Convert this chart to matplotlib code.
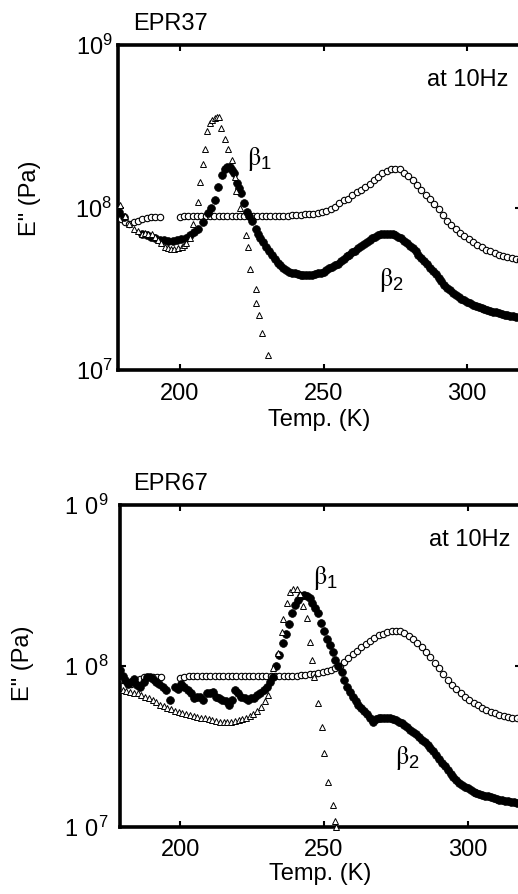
import numpy as np
import matplotlib
matplotlib.use("Agg")
import matplotlib.pyplot as plt
from matplotlib.ticker import NullLocator

plt.rcParams['font.family'] = ['Liberation Sans', 'DejaVu Sans']
plt.rcParams['mathtext.default'] = 'regular'

# ---------------- EPR37 (top panel) ----------------
# open circles
oc37_T = [179.5, 181, 182.5, 184, 185.5, 187, 188.5, 190, 191.5, 193,
          200, 201.5, 203, 204.5, 206, 207.5, 209, 210.5, 212, 213.5, 215, 216.5, 218, 219.5,
          221, 222.5, 224, 225.5, 227, 228.5, 230, 231.5, 233, 234.5, 236, 237.5, 239, 240.5,
          242, 243.5, 245, 246.5,
          248, 249.5, 251, 252.5, 254, 255.5, 257, 258.5, 260, 261.5, 263, 264.5, 266, 267.5,
          269, 270.5, 272, 273.5, 275, 276.5, 278, 279.5, 281, 282.5, 284, 285.5, 287, 288.5,
          290, 291.5, 293, 294.5, 296, 297.5, 299, 300.5, 302, 303.5, 305, 306.5, 308, 309.5,
          311, 312.5, 314, 315.5, 317, 318.5]
oc37_logE = [7.93, 7.91, 7.90, 7.91, 7.92, 7.93, 7.935, 7.94, 7.94, 7.94,
             7.94, 7.945, 7.95, 7.95, 7.95, 7.95, 7.95, 7.95, 7.95, 7.95, 7.95, 7.95, 7.95, 7.95,
             7.95, 7.95, 7.95, 7.95, 7.95, 7.95, 7.95, 7.95, 7.95, 7.95, 7.95, 7.95, 7.955, 7.955,
             7.955, 7.96, 7.96, 7.96,
             7.965, 7.97, 7.98, 7.99, 8.005, 8.025, 8.045, 8.055, 8.075, 8.095, 8.105, 8.125,
             8.145, 8.17, 8.19, 8.21, 8.225, 8.235, 8.24, 8.235, 8.215, 8.195, 8.17, 8.14,
             8.11, 8.08, 8.05, 8.02, 7.99, 7.955, 7.92, 7.89, 7.865, 7.845, 7.825, 7.805,
             7.785, 7.77, 7.755, 7.74, 7.73, 7.72, 7.71, 7.70, 7.695, 7.69, 7.685, 7.68]

# filled circles
fc37_T = [179, 180.5, 187, 188.5, 190, 191.5, 193, 194.5, 196, 197.5, 199, 200.5, 202, 203.5,
          205, 206.5, 208, 209.8, 211, 212.2, 213.3, 214.6, 215.6, 216.5, 217.4, 218.3, 218.8,
          219.8, 220.5, 221.2, 222.2, 223.3, 224.2, 225, 226.4, 227.2, 228, 229, 230, 231, 232,
          233, 234, 235, 236, 237, 238, 239, 240, 241, 242, 243, 244, 245, 246, 247, 248, 249,
          250, 251, 252, 253, 254, 255, 256, 257, 258, 259, 260, 261, 262, 263, 264, 265, 266,
          267, 268, 269, 270, 271, 272, 273, 274, 275, 276, 277, 278, 279, 280, 281, 282, 283,
          284, 285, 286, 287, 288, 289, 290, 291, 292, 293, 294, 295, 296, 297, 298, 299, 300,
          301, 302, 303, 304, 305, 306, 307, 308, 309, 310, 311, 312, 313, 314, 315, 316, 317,
          318]
fc37_logE = [7.97, 7.94, 7.84, 7.83, 7.82, 7.81, 7.80, 7.80, 7.795, 7.795, 7.80, 7.805, 7.815,
             7.83, 7.85, 7.87, 7.91, 7.965, 8.00, 8.046, 8.126, 8.20, 8.24, 8.25, 8.25, 8.23,
             8.21, 8.15, 8.12, 8.09, 8.03, 7.97, 7.945, 7.92, 7.87, 7.84, 7.81, 7.785, 7.76,
             7.735, 7.71, 7.685, 7.66, 7.645, 7.63, 7.615, 7.605, 7.60, 7.595, 7.59, 7.587,
             7.585, 7.585, 7.585, 7.587, 7.59, 7.595, 7.60, 7.605, 7.615, 7.625, 7.635, 7.645,
             7.655, 7.67, 7.685, 7.70, 7.71, 7.725, 7.735, 7.75, 7.765, 7.775, 7.785, 7.80,
             7.81, 7.82, 7.83, 7.835, 7.84, 7.84, 7.84, 7.835, 7.83, 7.82, 7.81, 7.795, 7.78,
             7.765, 7.75, 7.73, 7.71, 7.69, 7.67, 7.65, 7.63, 7.61, 7.59, 7.565, 7.545, 7.525,
             7.505, 7.49, 7.475, 7.46, 7.45, 7.44, 7.43, 7.42, 7.41, 7.40, 7.395, 7.39, 7.38,
             7.375, 7.37, 7.365, 7.36, 7.355, 7.35, 7.345, 7.34, 7.337, 7.334, 7.33, 7.327,
             7.325]

# open triangles
tr37_T = [179.2, 180.9, 182.5, 184.2, 185.5, 186.7, 187.8, 188.9, 190.2, 191.2, 192.3, 193.4,
          194.8, 196, 197, 198, 199.2, 200.6, 201.5, 202.3, 203.5, 204.6, 206.4, 206.9, 207.9,
          208.7, 209.6, 210.4, 211.3, 212.2, 213.0, 213.7, 214.5, 215.6, 216.8, 218.0, 219.1,
          219.7, 220.8, 223.2, 223.7, 224.5, 226.4, 226.6, 227.4, 228.7, 230.7]
tr37_logE = [8.015, 7.95, 7.90, 7.87, 7.855, 7.84, 7.845, 7.84, 7.84, 7.82, 7.80, 7.78, 7.76,
             7.75, 7.745, 7.745, 7.75, 7.76, 7.77, 7.78, 7.81, 7.90, 8.035, 8.16, 8.27, 8.36,
             8.47, 8.52, 8.54, 8.55, 8.56, 8.56, 8.49, 8.42, 8.36, 8.29, 8.19, 8.10, 8.00, 7.83,
             7.76, 7.62, 7.50, 7.41, 7.34, 7.23, 7.09]

# ---------------- EPR67 (bottom panel) ----------------
oc67_T = [180, 181.5, 183, 184.5, 186, 187.5, 189, 190.5, 192, 193.5,
          200, 201.5, 203, 204.5, 206, 207.5, 209, 210.5, 212, 213.5, 215, 216.5, 218, 219.5,
          221, 222.5, 224, 225.5, 227, 228.5, 230, 231.5, 233, 234.5, 236, 237.5, 239, 240.5,
          242, 243.5, 245, 246.5,
          248, 249.5, 251, 252.5, 254, 255.5, 257, 258.5, 260, 261.5, 263, 264.5, 266, 267.5,
          269, 270.5, 272, 273.5, 275, 276.5, 278, 279.5, 281, 282.5, 284, 285.5, 287, 288.5,
          290, 291.5, 293, 294.5, 296, 297.5, 299, 300.5, 302, 303.5, 305, 306.5, 308, 309.5,
          311, 312.5, 314, 315.5, 317, 318.5]
oc67_logE = [7.91, 7.90, 7.89, 7.90, 7.92, 7.93, 7.93, 7.93, 7.93, 7.93,
             7.925, 7.93, 7.935, 7.94, 7.94, 7.94, 7.94, 7.94, 7.94, 7.94, 7.94, 7.94, 7.94, 7.94,
             7.94, 7.94, 7.94, 7.94, 7.94, 7.94, 7.94, 7.94, 7.94, 7.94, 7.94, 7.94, 7.94, 7.94,
             7.945, 7.945, 7.95, 7.95,
             7.955, 7.96, 7.97, 7.975, 7.985, 8.00, 8.025, 8.05, 8.075, 8.095, 8.115, 8.135,
             8.155, 8.175, 8.19, 8.20, 8.21, 8.22, 8.22, 8.215, 8.205, 8.185, 8.165, 8.14, 8.115,
             8.085, 8.055, 8.02, 7.985, 7.95, 7.915, 7.88, 7.855, 7.83, 7.81, 7.79, 7.77, 7.755,
             7.74, 7.725, 7.715, 7.705, 7.695, 7.69, 7.685, 7.68, 7.675, 7.67]

fc67_T = [179, 180, 181, 182, 183, 184, 185, 186.2, 187.3, 188.4, 189.5, 190.6, 191.7, 192.8,
          193.9, 195, 196.5, 198.2, 199.3, 200.4, 201.5, 202.6, 203.7, 204.8, 205.9, 207, 208.1,
          209.2, 210.3, 211.4, 212.5, 213.6, 214.7, 215.8, 216.9, 218, 219.1, 220.2, 221.3,
          222.4, 223.5, 224.6, 225.7, 226.8, 227.9, 229, 230.1, 231.2, 232.3, 233.4, 234.5,
          235.6, 236.7, 237.8, 238.9, 240, 241, 242, 243, 244, 245, 246, 247, 248, 249, 250,
          251, 252, 253, 254, 255, 256.2, 257, 258, 259, 260, 261, 262, 263, 264, 265, 266, 267,
          268, 269, 270, 271, 272, 273, 274, 275, 276, 277, 278, 279, 280, 281, 282, 283, 284,
          285, 286, 287, 288, 289, 290, 291, 292, 293, 294, 295, 296, 297, 298, 299, 300, 301,
          302, 303, 304, 305, 306, 307, 308, 309, 310, 311, 312, 313, 314, 315, 316, 317, 318]
fc67_logE = [7.975, 7.94, 7.91, 7.89, 7.90, 7.92, 7.88, 7.87, 7.90, 7.93, 7.93, 7.92, 7.90,
             7.89, 7.87, 7.85, 7.79, 7.87, 7.86, 7.89, 7.87, 7.85, 7.83, 7.80, 7.81, 7.81, 7.79,
             7.83, 7.83, 7.84, 7.81, 7.80, 7.79, 7.78, 7.76, 7.79, 7.85, 7.83, 7.81, 7.80, 7.79,
             7.80, 7.80, 7.82, 7.83, 7.85, 7.87, 7.90, 7.93, 8.00, 8.07, 8.14, 8.20, 8.26, 8.33,
             8.38, 8.41, 8.435, 8.44, 8.435, 8.42, 8.39, 8.36, 8.33, 8.27, 8.22, 8.17, 8.13,
             8.09, 8.04, 8.00, 7.96, 7.91, 7.87, 7.84, 7.81, 7.78, 7.76, 7.74, 7.72, 7.70, 7.68,
             7.65, 7.67, 7.68, 7.68, 7.68, 7.68, 7.675, 7.67, 7.665, 7.655, 7.645, 7.635, 7.62,
             7.605, 7.59, 7.575, 7.56, 7.54, 7.525, 7.51, 7.49, 7.47, 7.445, 7.425, 7.40, 7.38,
             7.355, 7.33, 7.31, 7.29, 7.275, 7.26, 7.25, 7.24, 7.23, 7.22, 7.21, 7.205, 7.20,
             7.195, 7.19, 7.185, 7.18, 7.175, 7.17, 7.165, 7.16, 7.16, 7.155, 7.155, 7.15, 7.15]

tr67_T = [180, 181.3, 182.6, 183.9, 185.2, 186.5, 187.8, 189.1, 190.4, 191.7, 193, 194.3,
          195.6, 196.9, 198.2, 199.5, 200.8, 202.1, 203.4, 204.7, 206, 207.3, 208.6, 209.9,
          211.2, 212.5, 213.8, 215.1, 216.4, 217.7, 219, 220.3, 221.6, 222.9, 224.2, 225.5,
          226.8, 228.1, 229.4, 230.7, 232.4, 234, 235.4, 235.8, 237.2, 238.2, 239.4, 240.6,
          241.7, 242.7, 244, 245.1, 245.8, 246.5, 248, 249.3, 250, 251.4, 253.1, 254, 254.2]
tr67_logE = [7.85, 7.845, 7.84, 7.835, 7.83, 7.82, 7.81, 7.80, 7.79, 7.775, 7.76, 7.75, 7.74,
             7.73, 7.72, 7.715, 7.71, 7.70, 7.695, 7.69, 7.685, 7.68, 7.675, 7.67, 7.665, 7.66,
             7.655, 7.655, 7.655, 7.655, 7.66, 7.665, 7.67, 7.68, 7.69, 7.70, 7.72, 7.745, 7.78,
             7.82, 7.99, 8.08, 8.21, 8.29, 8.39, 8.46, 8.48, 8.48, 8.45, 8.37, 8.30, 8.15, 8.04,
             7.93, 7.77, 7.62, 7.46, 7.28, 7.135, 7.04, 7.0]

x_ticks = [200, 250, 300]
y_ticks = [1e7, 1e8, 1e9]
labels_top = [r'$\mathregular{10^{7}}$', r'$\mathregular{10^{8}}$', r'$\mathregular{10^{9}}$']
labels_bot = [r'$\mathregular{1\ 0^{7}}$', r'$\mathregular{1\ 0^{8}}$', r'$\mathregular{1\ 0^{9}}$']

W, H = 518, 894
fig = plt.figure(figsize=(W / 100, H / 100), dpi=100)

FS = 17


def make_axes(rect_px, xlim, ypad):
    l, t, r, b = rect_px
    ax = fig.add_axes([l / W, 1 - b / H, (r - l) / W, (b - t) / H])
    ax.set_yscale('log')
    ax.set_xlim(*xlim)
    ax.set_ylim(1e7, 1e9)
    for s in ax.spines.values():
        s.set_linewidth(2.6)
    ax.tick_params(which='both', direction='in', top=True, right=True, length=4.5, width=1.5,
                   labelsize=FS)
    ax.tick_params(axis='x', pad=9)
    ax.tick_params(axis='y', pad=ypad)
    ax.yaxis.set_minor_locator(NullLocator())
    ax.set_xticks(x_ticks)
    return ax


def draw(ax, oc_T, oc_l, fc_T, fc_l, tr_T, tr_l):
    ax.plot(oc_T, 10 ** np.array(oc_l), 'o', ms=4.6, mfc='white', mec='black', mew=0.8,
            zorder=3, clip_on=False)
    ax.plot(fc_T, 10 ** np.array(fc_l), 'o', ms=5.6, mfc='black', mec='black', mew=0.5,
            zorder=4)
    ax.plot(tr_T, 10 ** np.array(tr_l), '^', ms=4.4, mfc='white', mec='black', mew=0.7,
            zorder=5, clip_on=False)


ax1 = make_axes((118, 45, 521, 370), (178.5, 318.7), 4)
draw(ax1, oc37_T, oc37_logE, fc37_T, fc37_logE, tr37_T, tr37_logE)
ax1.set_yticks(y_ticks, labels=labels_top)
ax1.set_xlabel('Temp. (K)', fontsize=FS, labelpad=3)
ax1.set_ylabel('E" (Pa)', fontsize=FS)
ax1.yaxis.set_label_coords(-0.19, 0.53)
ax1.text(223.3, 2.0e8, r'$\mathrm{\beta}_1$', math_fontfamily='stix', fontsize=19,
         ha='left', va='center')
ax1.text(269.4, 3.6e7, r'$\mathrm{\beta}_2$', math_fontfamily='stix', fontsize=19,
         ha='left', va='center')
fig.text(133 / W, 1 - 24 / H, 'EPR37', fontsize=FS, ha='left', va='center')
fig.text(508 / W, 1 - 80 / H, 'at 10Hz', fontsize=FS, ha='right', va='center')

ax2 = make_axes((120, 505, 521, 827), (179.1, 318.5), 8)
draw(ax2, oc67_T, oc67_logE, fc67_T, fc67_logE, tr67_T, tr67_logE)
ax2.set_yticks(y_ticks, labels=labels_bot)
ax2.set_xlabel('Temp. (K)', fontsize=FS, labelpad=1)
ax2.set_ylabel('E" (Pa)', fontsize=FS)
ax2.yaxis.set_label_coords(-0.215, 0.51)
ax2.text(246.2, 3.5e8, r'$\mathrm{\beta}_1$', math_fontfamily='stix', fontsize=19,
         ha='left', va='center')
ax2.text(274.7, 2.7e7, r'$\mathrm{\beta}_2$', math_fontfamily='stix', fontsize=19,
         ha='left', va='center')
fig.text(133 / W, 1 - 484 / H, 'EPR67', fontsize=FS, ha='left', va='center')
fig.text(510 / W, 1 - 540 / H, 'at 10Hz', fontsize=FS, ha='right', va='center')

fig.savefig('out.png', dpi=100)
